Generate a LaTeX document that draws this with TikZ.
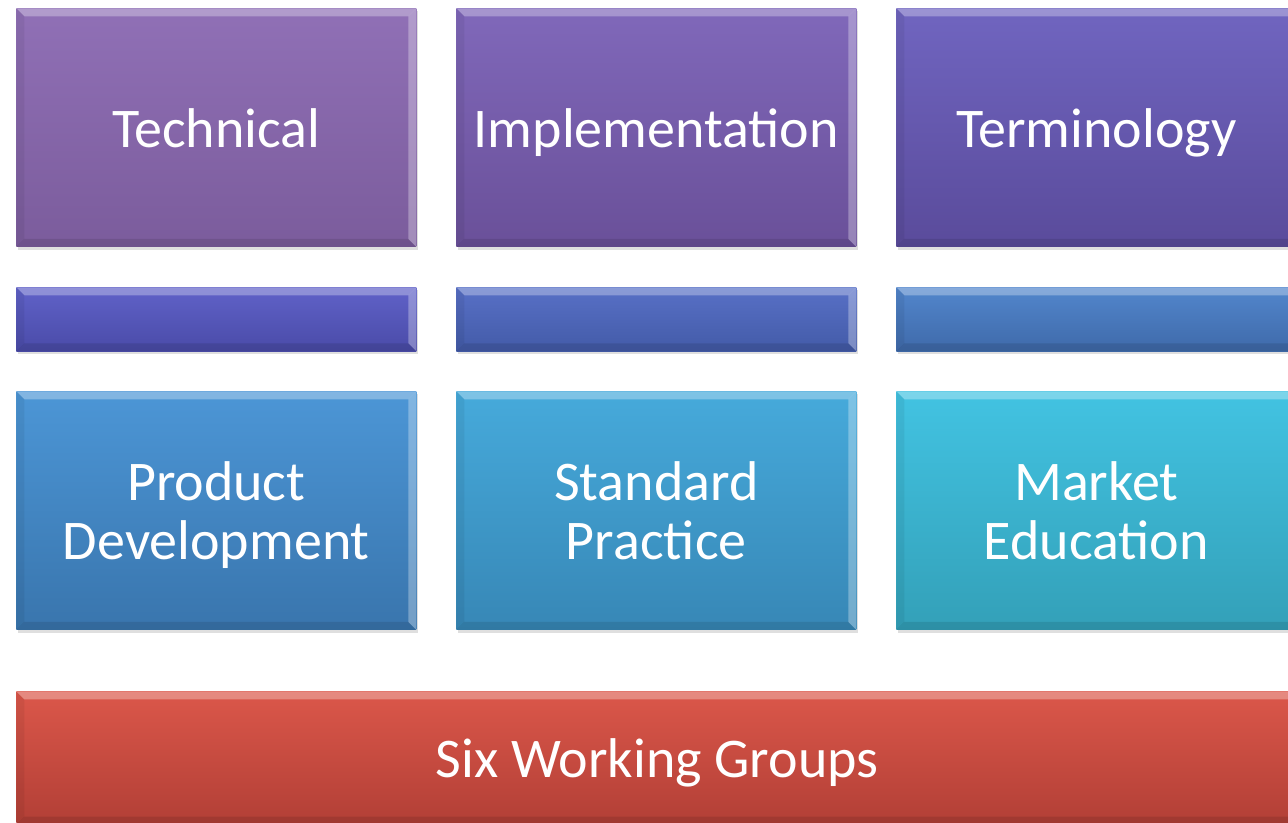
\documentclass[tikz,border=0pt]{standalone}
\usepackage{fontspec}
\setmainfont{Carlito}
\usetikzlibrary{shadows}

\definecolor{techtop}{HTML}{9070B6}
\definecolor{techbot}{HTML}{7B5C9C}
\definecolor{impltop}{HTML}{8068BA}
\definecolor{implbot}{HTML}{6A5099}
\definecolor{termtop}{HTML}{7065C0}
\definecolor{termbot}{HTML}{5A4B9B}
\definecolor{barAtop}{HTML}{6062C8}
\definecolor{barAbot}{HTML}{4A4BA8}
\definecolor{barBtop}{HTML}{5870C6}
\definecolor{barBbot}{HTML}{435BA8}
\definecolor{barCtop}{HTML}{5286CC}
\definecolor{barCbot}{HTML}{3F6AAA}
\definecolor{prodtop}{HTML}{4C96D6}
\definecolor{prodbot}{HTML}{3975AD}
\definecolor{stdtop}{HTML}{46AADB}
\definecolor{stdbot}{HTML}{3787B6}
\definecolor{mkttop}{HTML}{42C3E2}
\definecolor{mktbot}{HTML}{33A0B8}
\definecolor{basetop}{HTML}{DB574A}
\definecolor{basebot}{HTML}{B23F36}

\def\bv{6pt}
% line without depth, so the caps sit centred
\newcommand{\nodepth}[1]{\raisebox{0pt}[\height][0pt]{#1}}

\tikzset{
  group/.style={draw=none, anchor=north west, inner sep=0pt,
    minimum width=300pt, text=white, font=\fontsize{42}{44.3}\selectfont,
    align=center, drop shadow={opacity=0.25, shadow xshift=1.5pt, shadow yshift=-2pt},
    path picture={
      % bevel edges
      \fill[white, opacity=0.3] (path picture bounding box.north west) -- (path picture bounding box.north east)
        -- ([xshift=-\bv, yshift=-\bv]path picture bounding box.north east) -- ([xshift=\bv, yshift=-\bv]path picture bounding box.north west) -- cycle;
      \fill[white, opacity=0.3] (path picture bounding box.north east) -- (path picture bounding box.south east)
        -- ([xshift=-\bv, yshift=\bv]path picture bounding box.south east) -- ([xshift=-\bv, yshift=-\bv]path picture bounding box.north east) -- cycle;
      \fill[black, opacity=0.1] (path picture bounding box.south west) -- (path picture bounding box.south east)
        -- ([xshift=-\bv, yshift=\bv]path picture bounding box.south east) -- ([xshift=\bv, yshift=\bv]path picture bounding box.south west) -- cycle;
      \fill[black, opacity=0.06] (path picture bounding box.north west) -- (path picture bounding box.south west)
        -- ([xshift=\bv, yshift=\bv]path picture bounding box.south west) -- ([xshift=\bv, yshift=-\bv]path picture bounding box.north west) -- cycle;
    }},
  bigbox/.style={group, minimum height=179pt},
  bar/.style={group, minimum height=48pt},
  shade2/.style 2 args={top color=#1, bottom color=#2},
}

\begin{document}
\begin{tikzpicture}[x=0.75pt, y=-0.75pt]
  \useasboundingbox[fill=white] (0,0) rectangle (1288,823);
  \clip (0,0) rectangle (1288,823);

  % top row
  \node[bigbox, shade2={techtop}{techbot}] (tech) at (16,8) {\nodepth{Technical}};
  \node[bigbox, shade2={impltop}{implbot}] (impl) at (456,8) {\nodepth{Implementation}};
  \node[bigbox, shade2={termtop}{termbot}] (term) at (896,8) {\nodepth{Terminology}};

  % thin bars
  \node[bar, shade2={barAtop}{barAbot}] (barA) at (16,287) {};
  \node[bar, shade2={barBtop}{barBbot}] (barB) at (456,287) {};
  \node[bar, shade2={barCtop}{barCbot}] (barC) at (896,287) {};

  % bottom row
  \node[bigbox, shade2={prodtop}{prodbot}] (prod) at (16,391) {Product\\\nodepth{Development}};
  \node[bigbox, shade2={stdtop}{stdbot}] (std) at (456,391) {Standard\\\nodepth{Practice}};
  \node[bigbox, shade2={mkttop}{mktbot}] (mkt) at (896,391) {Market\\\nodepth{Education}};

  % base
  \node[group, minimum width=961.5pt, minimum height=100pt, shade2={basetop}{basebot}] (base) at (16,691) {\nodepth{Six Working Groups}};
\end{tikzpicture}
\end{document}
